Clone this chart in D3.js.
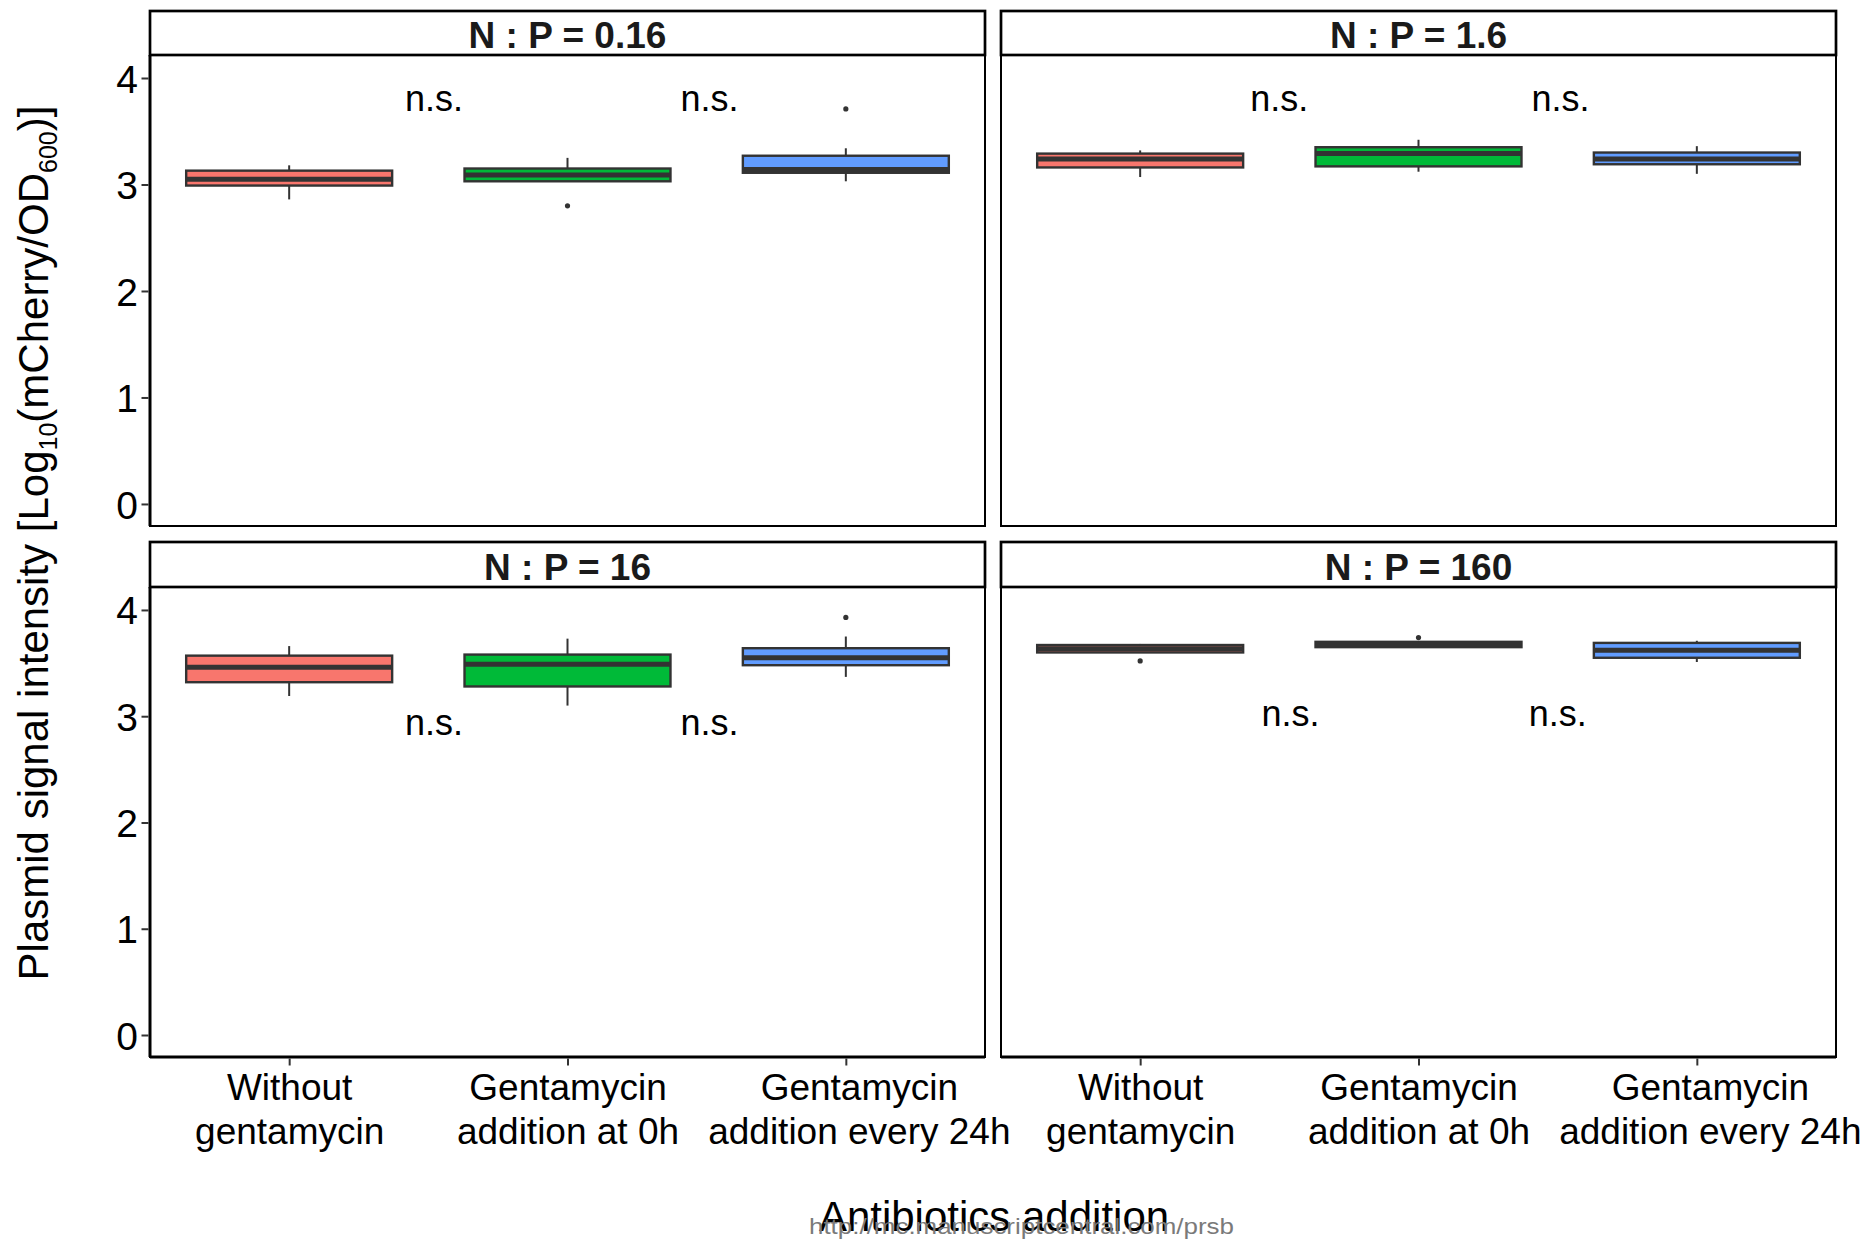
<!DOCTYPE html>
<html>
<head>
<meta charset="utf-8">
<script src="https://cdn.jsdelivr.net/npm/d3@7"></script>
<style>
  body { margin: 0; background: #fff; }
  text { font-family: "Liberation Sans", Arial, sans-serif; }
</style>
</head>
<body>
<svg id="chart" width="1871" height="1241"></svg>
<script>
// categories and facets
const categories = [
  ["Without", "gentamycin"],
  ["Gentamycin", "addition at 0h"],
  ["Gentamycin", "addition every 24h"]
]
const facets = ["N : P = 0.16", "N : P = 1.6", "N : P = 16", "N : P = 160"]
const colors = ["#F8766D", "#00BA38", "#619CFF"]

// box stats, one row per facet, one value per category
const whiskerLow = [[2.86, 3.03, 3.03], [3.07, 3.12, 3.10], [3.19, 3.10, 3.37], [3.60, 3.65, 3.51]]
const q1 = [[2.99, 3.03, 3.11], [3.16, 3.17, 3.19], [3.32, 3.28, 3.48], [3.60, 3.65, 3.55]]
const median = [[3.05, 3.09, 3.14], [3.24, 3.29, 3.24], [3.46, 3.49, 3.55], [3.635, 3.68, 3.62]]
const q3 = [[3.13, 3.15, 3.27], [3.29, 3.35, 3.30], [3.57, 3.58, 3.64], [3.67, 3.70, 3.69]]
const whiskerHigh = [[3.18, 3.25, 3.34], [3.32, 3.42, 3.36], [3.66, 3.73, 3.75], [3.68, 3.70, 3.71]]
// outliers: [facet, category, value]
const outliers = [[0, 1, 2.80], [0, 2, 3.71], [2, 2, 3.93], [3, 0, 3.52], [3, 1, 3.74]]

// "n.s." annotations: height and positions (category index units)
const nsY = [3.78, 3.78, 2.91, 3.0]
const nsX = [[0.52, 1.51], [0.5, 1.51], [0.52, 1.51], [0.54, 1.5]]

const yTicks = [0, 1, 2, 3, 4]

const svg = d3.select("#chart")
const panelW = 835
const cols = [150, 1001]
const rows = [{ top: 55, bottom: 526, strip: 11 }, { top: 587, bottom: 1057, strip: 542 }]

const x = d3.scaleLinear().domain([-0.5, 2.5]).range([0, panelW])
const boxW = 0.74 * (panelW / 3)
const labelShift = [0, 0, 13]   // the long bottom label sits a bit right of its tick

facets.forEach((name, f) => {
  const col = f % 2, row = Math.floor(f / 2)
  const r = rows[row]
  const y = d3.scaleLinear().domain([-0.207, 4.216]).range([r.bottom - r.top, 0])
  const g = svg.append("g").attr("transform", `translate(${cols[col]},${r.top})`)

  // panel border
  g.append("rect")
    .attr("width", panelW).attr("height", r.bottom - r.top)
    .attr("fill", "none").attr("stroke", "#000").attr("stroke-width", 2)

  // boxes
  const data = d3.range(3).map(i => ({
    i, lo: whiskerLow[f][i], q1: q1[f][i], med: median[f][i], q3: q3[f][i], hi: whiskerHigh[f][i]
  }))
  const b = g.selectAll("g.box").data(data).join("g").attr("class", "box")
  b.append("line")
    .attr("x1", d => x(d.i)).attr("x2", d => x(d.i))
    .attr("y1", d => y(d.hi)).attr("y2", d => y(d.q3))
    .attr("stroke", "#333").attr("stroke-width", 2)
  b.append("line")
    .attr("x1", d => x(d.i)).attr("x2", d => x(d.i))
    .attr("y1", d => y(d.q1)).attr("y2", d => y(d.lo))
    .attr("stroke", "#333").attr("stroke-width", 2)
  b.append("rect")
    .attr("x", d => x(d.i) - boxW / 2).attr("width", boxW)
    .attr("y", d => y(d.q3)).attr("height", d => y(d.q1) - y(d.q3))
    .attr("fill", d => colors[d.i]).attr("stroke", "#333").attr("stroke-width", 2.4)
  b.append("line")
    .attr("x1", d => x(d.i) - boxW / 2).attr("x2", d => x(d.i) + boxW / 2)
    .attr("y1", d => y(d.med)).attr("y2", d => y(d.med))
    .attr("stroke", "#333").attr("stroke-width", 5)

  g.selectAll("circle.out").data(outliers.filter(o => o[0] === f)).join("circle")
    .attr("class", "out")
    .attr("cx", d => x(d[1])).attr("cy", d => y(d[2])).attr("r", 2.6).attr("fill", "#333")

  // n.s. labels
  g.selectAll("text.ns").data(nsX[f]).join("text")
    .attr("class", "ns")
    .attr("x", d => x(d)).attr("y", y(nsY[f]) + 9.5)
    .attr("text-anchor", "middle").attr("font-size", 36).attr("fill", "#000")
    .text("n.s.")

  // axis lines
  if (col === 0) {
    g.append("line").attr("x1", 0).attr("x2", 0).attr("y1", 0).attr("y2", r.bottom - r.top)
      .attr("stroke", "#000").attr("stroke-width", 3)
    const ay = g.append("g").call(d3.axisLeft(y).tickValues(yTicks).tickSize(7).tickPadding(5).tickFormat(d3.format("d")))
    ay.select(".domain").remove()
    ay.selectAll(".tick line").attr("stroke", "#333").attr("stroke-width", 2).attr("transform", "translate(-1.5,0)")
    ay.selectAll(".tick text").attr("font-size", 39).attr("fill", "#000")
      .attr("font-family", "Liberation Sans, Arial, sans-serif").attr("dy", "0.36em")
  }
  if (row === 1) {
    const h = r.bottom - r.top
    g.append("line").attr("x1", 0).attr("x2", panelW).attr("y1", h).attr("y2", h)
      .attr("stroke", "#000").attr("stroke-width", 3)
    const ax = g.append("g").attr("transform", `translate(0,${h + 1.5})`)
      .call(d3.axisBottom(x).tickValues([0, 1, 2]).tickSize(7).tickFormat(""))
    ax.select(".domain").remove()
    ax.selectAll(".tick line").attr("stroke", "#333").attr("stroke-width", 2)
    ax.selectAll(".tick").append("text")
      .attr("text-anchor", "middle").attr("font-size", 37).attr("fill", "#000")
      .attr("transform", d => `translate(${labelShift[d]},0)`)
      .selectAll("tspan").data(d => categories[d]).join("tspan")
      .attr("x", 0).attr("y", (d, k) => 41 + k * 44)
      .text(d => d)
  }

  // strip
  const s = svg.append("g").attr("transform", `translate(${cols[col]},${r.strip})`)
  s.append("rect").attr("width", panelW).attr("height", r.top - r.strip)
    .attr("fill", "#fff").attr("stroke", "#000").attr("stroke-width", 2.7)
  s.append("text")
    .attr("x", panelW / 2).attr("y", (r.top - r.strip) / 2 + 15)
    .attr("text-anchor", "middle").attr("font-size", 37).attr("font-weight", "bold").attr("fill", "#1a1a1a")
    .text(name)
})

// axis titles
const yt = svg.append("text")
  .attr("transform", "translate(48,543) rotate(-90)")
  .attr("text-anchor", "middle").attr("font-size", 42).attr("fill", "#000")
yt.append("tspan").text("Plasmid signal intensity [Log")
yt.append("tspan").attr("font-size", 25).attr("dy", 9).text("10")
yt.append("tspan").attr("dy", -9).text("(mCherry/OD")
yt.append("tspan").attr("font-size", 25).attr("dy", 9).text("600")
yt.append("tspan").attr("dy", -9).text(")]")

svg.append("text")
  .attr("x", 994).attr("y", 1231)
  .attr("text-anchor", "middle").attr("font-size", 42).attr("fill", "#000")
  .text("Antibiotics addition")

svg.append("text")
  .attr("x", 809).attr("y", 1234)
  .attr("font-size", 22).attr("fill", "#7a7a7a")
  .attr("textLength", 425).attr("lengthAdjust", "spacingAndGlyphs")
  .text("http://mc.manuscriptcentral.com/prsb")
</script>
</body>
</html>
